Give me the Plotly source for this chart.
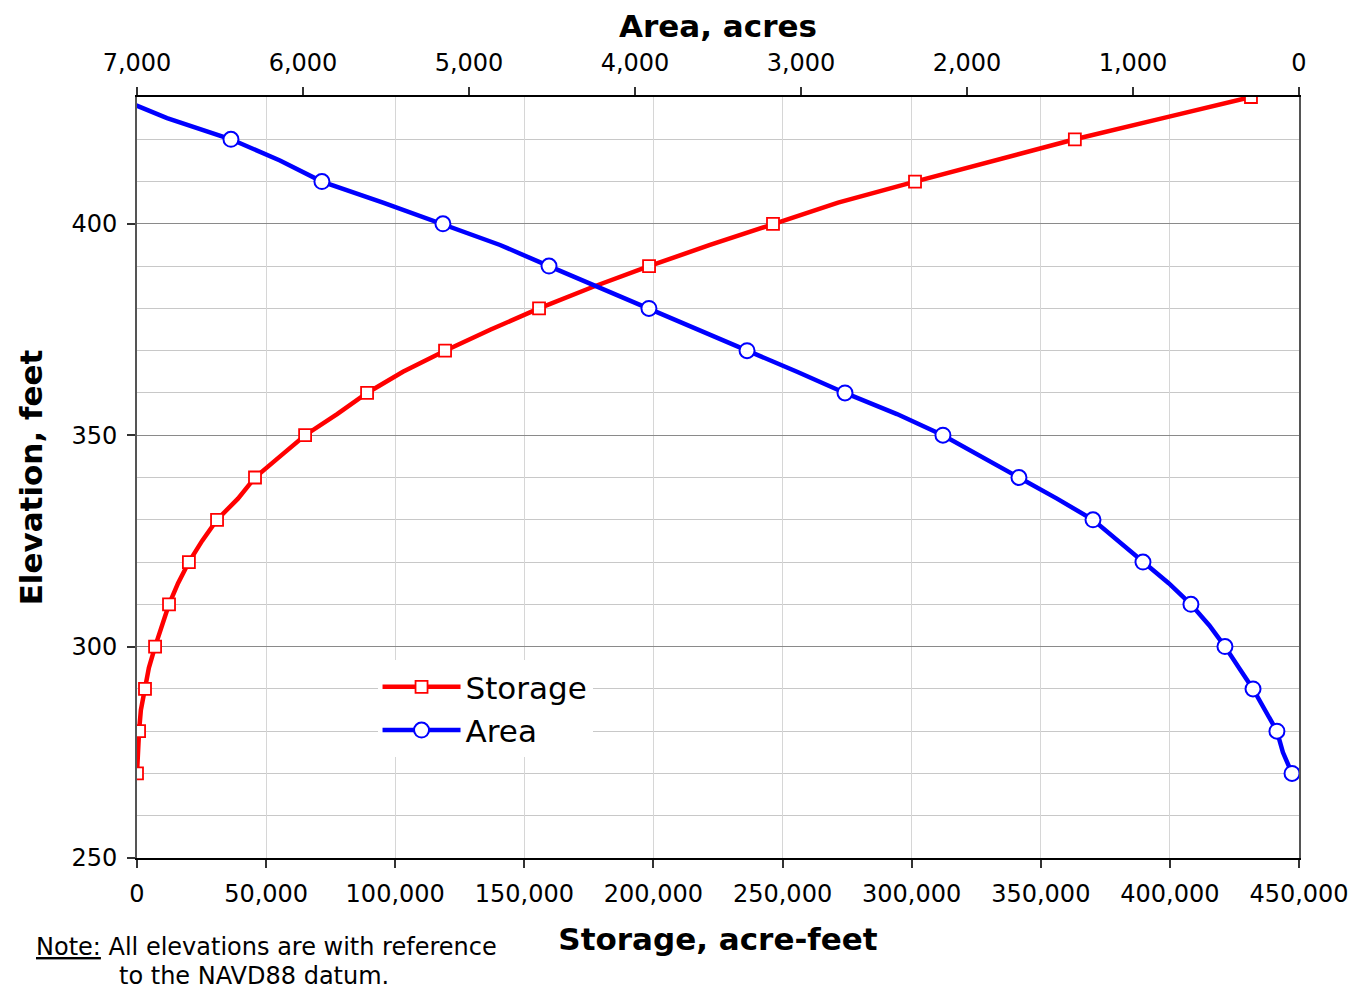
import plotly.graph_objects as go

# Storage (acre-feet) vs elevation (feet)
storage_elev = [270, 275, 280, 285, 290, 295, 300, 305, 310, 315, 320, 325, 330, 335, 340, 345,
                350, 355, 360, 365, 370, 375, 380, 385, 390, 395, 400, 405, 410, 415, 420, 425, 430]
storage_af = [0, 300, 800, 1500, 3100, 4600, 7000, 9700, 12400, 15900, 20100, 25200, 31000, 39100,
              45700, 55400, 65100, 77500, 89100, 103000, 119300, 137000, 155700, 176200, 198300,
              221900, 246300, 271500, 301300, 331500, 363200, 397300, 431400]

# Area (acres) vs elevation (feet)
area_elev = [270, 275, 280, 285, 290, 295, 300, 305, 310, 315, 320, 325, 330, 335, 340, 345,
             350, 355, 360, 365, 370, 375, 380, 385, 390, 395, 400, 405, 410, 415, 420, 425, 428.6]
area_ac = [42, 97, 133, 205, 277, 362, 446, 540, 651, 785, 940, 1090, 1241, 1458, 1687, 1904,
           2145, 2422, 2735, 3024, 3325, 3627, 3916, 4223, 4518, 4813, 5157, 5518, 5886, 6139,
           6434, 6819, 7042]

RED = "#FF0000"
BLUE = "#0000FF"
FONT = "DejaVu Sans"

def marked(elev, vals):
    e = [a for a in elev if a % 10 == 0]
    v = [b for a, b in zip(elev, vals) if a % 10 == 0]
    return e, v

s_me, s_mv = marked(storage_elev, storage_af)
a_me, a_mv = marked(area_elev, area_ac)

SQ = dict(symbol="square", size=12, color="white", line=dict(color=RED, width=1.8))
CI = dict(symbol="circle", size=15, color="white", line=dict(color=BLUE, width=2))

fig = go.Figure()
fig.add_trace(go.Scatter(x=storage_af, y=storage_elev, mode="lines", line=dict(color=RED, width=4.5),
                         showlegend=False, hoverinfo="skip"))
fig.add_trace(go.Scatter(x=area_ac, y=area_elev, mode="lines", line=dict(color=BLUE, width=4.5),
                         xaxis="x2", showlegend=False, hoverinfo="skip"))
fig.add_trace(go.Scatter(x=s_mv, y=s_me, mode="markers", marker=SQ, showlegend=False, name="Storage"))
fig.add_trace(go.Scatter(x=a_mv, y=a_me, mode="markers", xaxis="x2", marker=CI, showlegend=False, name="Area"))
fig.add_trace(go.Scatter(x=[None], y=[None], mode="lines+markers", name="Storage",
                         line=dict(color=RED, width=4.5), marker=SQ))
fig.add_trace(go.Scatter(x=[None], y=[None], mode="lines+markers", name="Area",
                         line=dict(color=BLUE, width=4.5), marker=CI))

fig.update_layout(
    width=1358, height=984,
    margin=dict(l=129, r=67, t=89, b=134, autoexpand=False),
    paper_bgcolor="white", plot_bgcolor="white",
    font=dict(family=FONT, color="black", size=24),
    xaxis=dict(
        range=[0, 450000], tick0=0, dtick=50000, tickformat=",", automargin=False,
        showgrid=True, gridcolor="#d6d6d6", gridwidth=1, zeroline=False,
        showline=True, linecolor="black", linewidth=2,
        ticks="outside", ticklen=8, tickcolor="#333", tickwidth=2, ticklabelstandoff=5,
        tickfont=dict(size=24, family=FONT),
        title=dict(text="<b>Storage, acre-feet</b>", font=dict(size=31, family=FONT), standoff=22),
    ),
    xaxis2=dict(
        overlaying="x", side="top", anchor="y", automargin=False,
        range=[7000, 0], tick0=0, dtick=1000, tickformat=",",
        showgrid=False, zeroline=False,
        showline=True, linecolor="black", linewidth=1.5,
        ticks="outside", ticklen=8, tickcolor="#333", tickwidth=2, ticklabelstandoff=7,
        tickfont=dict(size=24, family=FONT),
        title=dict(text="<b>Area, acres</b>", font=dict(size=31, family=FONT), standoff=10),
    ),
    yaxis=dict(
        range=[250, 430], tick0=250, dtick=50, automargin=False,
        showgrid=True, gridcolor="#8a8a8a", gridwidth=1.2, zeroline=False,
        minor=dict(dtick=10, tick0=250, showgrid=True, gridcolor="#c8c8c8", gridwidth=1, ticks=""),
        showline=True, linecolor="#555", linewidth=2, mirror=True,
        ticks="outside", ticklen=8, tickcolor="#333", tickwidth=2, ticklabelstandoff=5,
        tickfont=dict(size=24, family=FONT),
        title=dict(text="<b>Elevation, feet</b>", font=dict(size=31, family=FONT), standoff=20),
    ),
    legend=dict(
        x=0.207, y=0.260, xanchor="left", yanchor="top",
        bgcolor="white", borderwidth=0,
        font=dict(size=31, family=FONT), tracegroupgap=0, itemwidth=78,
    ),
    annotations=[
        dict(text="<u>Note:</u> All elevations are with reference", xref="paper", yref="paper",
             x=-0.0886, y=-0.117, xanchor="left", yanchor="middle", showarrow=False,
             font=dict(size=24, family=FONT)),
        dict(text="to the NAVD88 datum.", xref="paper", yref="paper",
             x=-0.0172, y=-0.155, xanchor="left", yanchor="middle", showarrow=False,
             font=dict(size=24, family=FONT)),
    ],
)

fig.write_html("out.html")
